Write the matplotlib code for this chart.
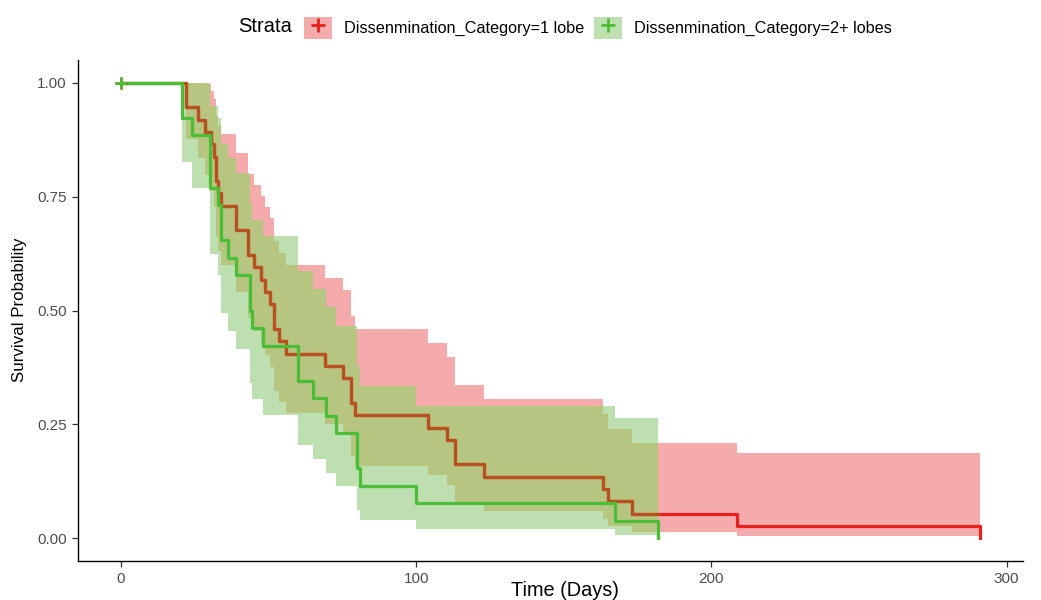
import numpy as np
import matplotlib
matplotlib.use("Agg")
import matplotlib.pyplot as plt
from matplotlib.patches import Patch
from matplotlib.lines import Line2D

plt.rcParams['font.family'] = ['Liberation Sans', 'DejaVu Sans']

# ---- data (Kaplan-Meier steps and 95% CI) ----
red_time = [0, 22, 26.2, 28.4, 30.5, 31.5, 32.3, 33, 34, 39.1, 43.2, 45, 47.6, 48.7,
            50.5, 52, 53.5, 56, 69, 75.3, 78, 79.2, 104, 110.3, 113, 123, 163.3, 165,
            173, 208.6, 291]
red_surv = [1, 0.946, 0.919, 0.892, 0.865, 0.838, 0.784, 0.757, 0.730, 0.676, 0.622,
            0.595, 0.568, 0.541, 0.514, 0.459, 0.432, 0.405, 0.378, 0.351, 0.297, 0.270,
            0.243, 0.216, 0.162, 0.135, 0.108, 0.081, 0.054, 0.027, 0]
red_upper = [1, 1, 1, 0.998, 0.982, 0.965, 0.928, 0.908, 0.888, 0.845, 0.799, 0.776,
             0.752, 0.728, 0.703, 0.652, 0.626, 0.599, 0.572, 0.544, 0.488, 0.459, 0.429,
             0.399, 0.337, 0.305, 0.273, 0.240, 0.208, 0.187, np.nan]
red_lower = [1, 0.876, 0.835, 0.797, 0.762, 0.727, 0.662, 0.630, 0.600, 0.541, 0.484,
             0.456, 0.428, 0.402, 0.375, 0.324, 0.299, 0.274, 0.250, 0.227, 0.181, 0.159,
             0.138, 0.117, 0.078, 0.060, 0.043, 0.027, 0.014, 0.004, np.nan]

green_time = [0, 20.8, 24, 30.1, 33, 34, 36.3, 39.1, 43.7, 44.5, 48.2, 60, 65, 69.4, 73,
              80, 81, 100.1, 167.3, 182]
green_surv = [1, 0.923, 0.885, 0.769, 0.731, 0.654, 0.615, 0.577, 0.5, 0.462, 0.423,
              0.346, 0.308, 0.269, 0.231, 0.154, 0.115, 0.077, 0.038, 0]
green_upper = [1, 1, 1, 0.950, 0.923, 0.865, 0.834, 0.802, 0.734, 0.699, 0.663, 0.587,
               0.548, 0.507, 0.466, 0.379, 0.335, 0.291, 0.263, np.nan]
green_lower = [1, 0.826, 0.770, 0.623, 0.579, 0.494, 0.454, 0.415, 0.340, 0.305, 0.270,
               0.204, 0.173, 0.143, 0.114, 0.063, 0.040, 0.020, 0.006, np.nan]

labels = ["Dissenmination_Category=1 lobe", "Dissenmination_Category=2+ lobes"]
x_ticks = [0, 100, 200, 300]
y_ticks = [0, 0.25, 0.5, 0.75, 1.0]
y_ticklabels = ["0.00", "0.25", "0.50", "0.75", "1.00"]

RED = '#E8201E'
GREEN = '#4BBE37'
PINK = '#F5AAAC'
LIGHTGREEN = '#BEDFAF'
OLIVE = '#B6C580'
BROWN = '#B5521F'

fig = plt.figure(figsize=(10.41, 6), dpi=100)
ax = fig.add_axes([78 / 1041, 1 - 561 / 600, (1023 - 78) / 1041, (561 - 60) / 600])


def band(t, up, lo):
    t = np.asarray(t, float)
    up = np.asarray(up, float)
    lo = np.asarray(lo, float)
    return t, np.append(up[:-1], up[-2]), np.append(lo[:-1], lo[-2])


def step_eval(t, v, grid):
    idx = np.searchsorted(t, grid, side='right') - 1
    return v[np.clip(idx, 0, len(v) - 1)]


rt, rup, rlo = band(red_time, red_upper, red_lower)
gt, gup, glo = band(green_time, green_upper, green_lower)

# red band (pink), green band (light green), overlap (olive)
ax.fill_between(rt, rlo, rup, step='post', color=PINK, lw=0, zorder=1)
ax.fill_between(gt, glo, gup, step='post', color=LIGHTGREEN, lw=0, zorder=2)
t_end = min(rt[-1], gt[-1])
grid = np.union1d(rt[rt <= t_end], gt[gt <= t_end])
ov_lo = np.maximum(step_eval(rt, rlo, grid), step_eval(gt, glo, grid))
ov_up = np.minimum(step_eval(rt, rup, grid), step_eval(gt, gup, grid))
ov_up = np.maximum(ov_up, ov_lo)
ax.fill_between(grid, ov_lo, ov_up, step='post', color=OLIVE, lw=0, zorder=3)

# red curve: red outside the green band, brownish where the green band covers it
ax.step(red_time, red_surv, where='post', color=RED, lw=2.3, zorder=4)
rs = np.asarray(red_surv, float)
mask = rt < gt[-1]
part_t = np.append(rt[mask], gt[-1])
part_s = np.append(rs[mask], rs[mask][-1])
ax.step(part_t, part_s, where='post', color=BROWN, lw=2.3, zorder=4.5)

ax.step(green_time, green_surv, where='post', color=GREEN, lw=2.3, zorder=5)

ax.plot([red_time[0]], [red_surv[0]], marker='+', color=RED, ms=9, mew=2, ls='none', zorder=5)
ax.plot([green_time[0]], [green_surv[0]], marker='+', color=GREEN, ms=9, mew=2, ls='none', zorder=6)

ax.set_xlim(-14.55, 305.55)
ax.set_ylim(-0.05, 1.05)
ax.set_xticks(x_ticks)
ax.set_xticklabels([str(v) for v in x_ticks])
ax.set_yticks(y_ticks)
ax.set_yticklabels(y_ticklabels)
for s in ['top', 'right']:
    ax.spines[s].set_visible(False)
for s in ['left', 'bottom']:
    ax.spines[s].set_color('black')
    ax.spines[s].set_linewidth(1.0)
ax.tick_params(axis='both', direction='out', length=4, width=0.9, color='#333333',
               labelcolor='#4D4D4D', labelsize=11, pad=4)

fig.text(20 / 1041, 1 - 310 / 600, "Survival Probability", rotation=90,
         ha='center', va='center', fontsize=12.2, color='black')
fig.text(565 / 1041, 1 - 591 / 600, "Time (Days)", ha='center', va='center',
         fontsize=14.3, color='black')

# legend
fig.text(238 / 1041, 1 - 27 / 600, "Strata", ha='left', va='center', fontsize=14.5)
handles = [
    (Patch(facecolor=PINK, edgecolor='none'),
     Line2D([], [], marker='+', color=RED, ms=10, mew=2, ls='none')),
    (Patch(facecolor=LIGHTGREEN, edgecolor='none'),
     Line2D([], [], marker='+', color=GREEN, ms=10, mew=2, ls='none')),
]
fig.legend(handles, labels, loc='center left', bbox_to_anchor=(304 / 1041, 1 - 28 / 600),
           ncol=2, frameon=False, fontsize=11.7, handlelength=1.75, handleheight=1.65,
           handletextpad=0.7, columnspacing=0.6, borderpad=0, borderaxespad=0)

fig.savefig("out.png", dpi=100)
